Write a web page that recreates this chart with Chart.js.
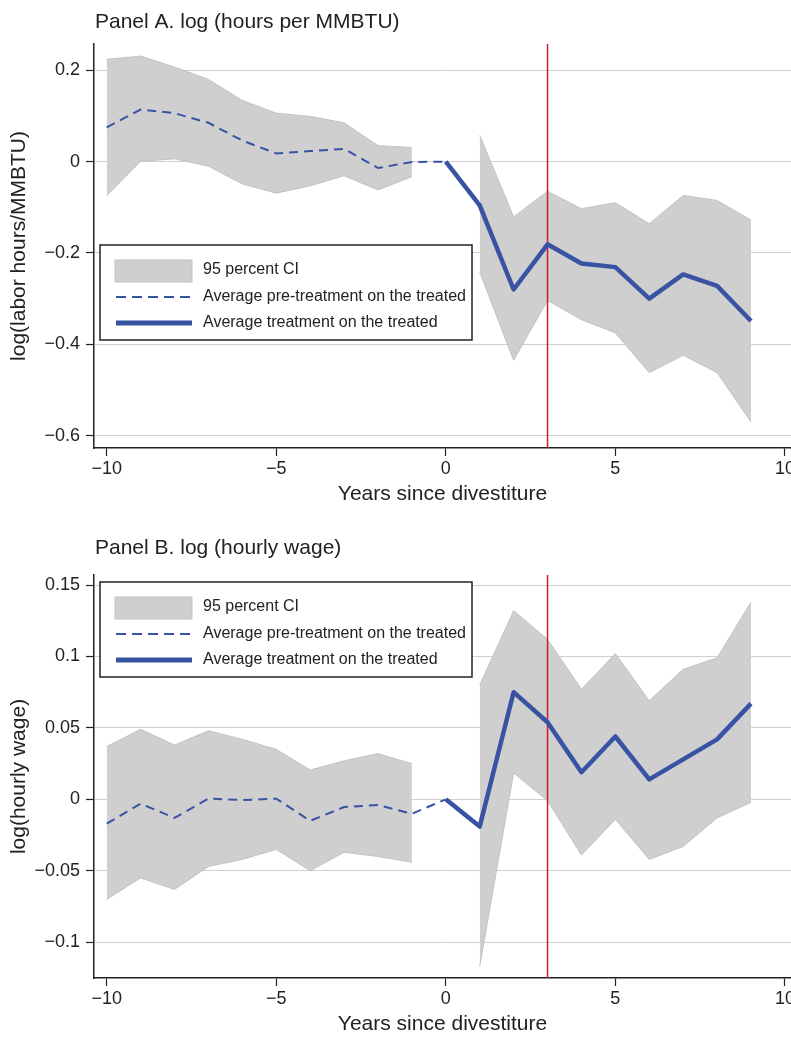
<!DOCTYPE html>
<html>
<head>
<meta charset="utf-8">
<script src="https://cdn.jsdelivr.net/npm/chart.js@4.4.1/dist/chart.umd.min.js"></script>
<style>
  html, body { margin: 0; padding: 0; background: #fff; overflow: hidden; width: 791px; height: 1038px; }
  .panel { position: absolute; left: 0; width: 810px; height: 519px; }
</style>
</head>
<body>
<div class="panel" style="top:0"><canvas id="panelA"></canvas></div>
<div class="panel" style="top:519px"><canvas id="panelB"></canvas></div>
<script>
// years relative to divestiture
const years = [-10, -9, -8, -7, -6, -5, -4, -3, -2, -1, 0, 1, 2, 3, 4, 5, 6, 7, 8, 9];
const treatYear = 3;
const xTicks = [-10, -5, 0, 5, 10];

// Panel A: log(labor hours / MMBTU)
const hoursEst   = [0.075, 0.114, 0.106, 0.085, 0.046, 0.018, 0.023, 0.028, -0.014, -0.001, 0, -0.096, -0.280, -0.181, -0.223, -0.231, -0.300, -0.247, -0.272, -0.349];
const hoursUpper = [0.224, 0.231, 0.207, 0.180, 0.134, 0.106, 0.099, 0.085, 0.035, 0.031, null, 0.058, -0.121, -0.065, -0.103, -0.090, -0.136, -0.074, -0.085, -0.128];
const hoursLower = [-0.075, 0.001, 0.006, -0.010, -0.049, -0.069, -0.053, -0.031, -0.062, -0.033, null, -0.242, -0.435, -0.304, -0.346, -0.375, -0.462, -0.424, -0.462, -0.570];
const hoursTicks = [0.2, 0, -0.2, -0.4, -0.6];

// Panel B: log(hourly wage)
const wageEst   = [-0.017, -0.003, -0.013, 0.0005, -0.0005, 0.0005, -0.015, -0.0054, -0.004, -0.010, 0, -0.019, 0.075, 0.054, 0.019, 0.044, 0.014, 0.028, 0.042, 0.067];
const wageUpper = [0.037, 0.049, 0.038, 0.048, 0.042, 0.035, 0.0205, 0.027, 0.032, 0.025, null, 0.080, 0.132, 0.112, 0.077, 0.102, 0.069, 0.091, 0.099, 0.138];
const wageLower = [-0.070, -0.055, -0.063, -0.047, -0.042, -0.035, -0.050, -0.037, -0.040, -0.044, null, -0.117, 0.0185, -0.001, -0.039, -0.014, -0.042, -0.033, -0.013, -0.002];
const wageTicks = [0.15, 0.1, 0.05, 0, -0.05, -0.1];

const legendLabels = ['95 percent CI', 'Average pre-treatment on the treated', 'Average treatment on the treated'];

const BLUE = '#3953a4';
const CI_FILL = '#cfcfcf';
const CI_EDGE = '#c2c2c2';
const RED = '#cc1a35';
const TEXT = '#222';
const FONT = '"Liberation Sans", Arial, Helvetica, sans-serif';

Chart.defaults.font.family = FONT;
Chart.defaults.color = TEXT;

function pts(vals, keep) {
  return years.map((x, i) => ({ x: x, y: vals[i] })).filter(p => keep(p.x));
}

function fmt(v) {
  if (v === 0) return '0';
  return (v < 0 ? '\u2212' : '') + String(Math.abs(v));
}

// panel title drawn above the plot, left aligned with the axis
const panelTitle = {
  id: 'panelTitle',
  afterDraw(chart, args, opts) {
    const { ctx, chartArea } = chart;
    ctx.save();
    ctx.font = '21px ' + FONT;
    ctx.fillStyle = TEXT;
    ctx.textBaseline = 'middle';
    ctx.fillText(opts.text, chartArea.left + 1, chartArea.top - opts.dy);
    ctx.restore();
  }
};

// boxed legend inside the plot
const ciLegend = {
  id: 'ciLegend',
  afterDraw(chart, args, opts) {
    const { ctx, chartArea } = chart;
    const x = chartArea.left + opts.dx, y = chartArea.top + opts.dy;
    const w = 372, h = 95;
    ctx.save();
    ctx.fillStyle = '#fff';
    ctx.fillRect(x, y, w, h);
    ctx.strokeStyle = '#222';
    ctx.lineWidth = 1.5;
    ctx.strokeRect(x, y, w, h);

    ctx.fillStyle = CI_FILL;
    ctx.fillRect(x + 15, y + 15, 77, 22);
    ctx.strokeStyle = CI_EDGE;
    ctx.lineWidth = 1;
    ctx.strokeRect(x + 15, y + 15, 77, 22);

    ctx.strokeStyle = BLUE;
    ctx.lineWidth = 2;
    ctx.setLineDash([10, 6]);
    ctx.beginPath(); ctx.moveTo(x + 16, y + 52); ctx.lineTo(x + 92, y + 52); ctx.stroke();
    ctx.setLineDash([]);
    ctx.lineWidth = 5;
    ctx.beginPath(); ctx.moveTo(x + 16, y + 78); ctx.lineTo(x + 92, y + 78); ctx.stroke();

    ctx.font = '16px ' + FONT;
    ctx.fillStyle = TEXT;
    ctx.textBaseline = 'middle';
    ctx.fillText(legendLabels[0], x + 103, y + 25);
    ctx.fillText(legendLabels[1], x + 103, y + 52);
    ctx.fillText(legendLabels[2], x + 103, y + 78);
    ctx.restore();
  }
};

function makeChart(id, cfg) {
  const pre = x => x <= 0;
  const post = x => x >= 0;
  const ciPre = x => x < 0;
  const ciPost = x => x > 0;
  const ciStyle = { borderColor: CI_EDGE, borderWidth: 1, backgroundColor: CI_FILL, pointRadius: 0, tension: 0 };

  return new Chart(document.getElementById(id), {
    type: 'line',
    data: {
      datasets: [
        { label: legendLabels[2], data: pts(cfg.est, post), borderColor: BLUE, borderWidth: 4.5,
          pointRadius: 0, fill: false, order: 0, borderJoinStyle: 'round' },
        { label: legendLabels[1], data: pts(cfg.est, pre), borderColor: BLUE, borderWidth: 2,
          borderDash: [9, 6], pointRadius: 0, fill: false, order: 1 },
        { label: 'divestiture', data: [{ x: treatYear, y: cfg.yMin }, { x: treatYear, y: cfg.yMax }],
          borderColor: RED, borderWidth: 1.5, pointRadius: 0, fill: false, order: 2 },
        Object.assign({ label: 'upper pre', data: pts(cfg.up, ciPre), fill: false, order: 3 }, ciStyle),
        Object.assign({ label: 'lower pre', data: pts(cfg.lo, ciPre), fill: 3, order: 4 }, ciStyle),
        Object.assign({ label: 'upper post', data: pts(cfg.up, ciPost), fill: false, order: 5 }, ciStyle),
        Object.assign({ label: 'lower post', data: pts(cfg.lo, ciPost), fill: 5, order: 6 }, ciStyle)
      ]
    },
    options: {
      responsive: true,
      maintainAspectRatio: false,
      animation: false,
      layout: { padding: cfg.padding },
      plugins: {
        legend: { display: false },
        tooltip: { enabled: false },
        panelTitle: { text: cfg.title, dy: cfg.titleDy },
        ciLegend: { dx: cfg.legendDx, dy: cfg.legendDy }
      },
      scales: {
        x: {
          type: 'linear',
          min: -10.375,
          max: 10.18,
          afterBuildTicks: s => { s.ticks = xTicks.map(v => ({ value: v })); },
          afterFit: s => { s.height = 59; },
          ticks: { callback: v => fmt(v), font: { size: 18 }, padding: 2, maxRotation: 0 },
          grid: { drawOnChartArea: false, tickLength: 8, tickColor: '#222', tickWidth: 1.2 },
          border: { color: '#222', width: 1.5 },
          title: { display: true, text: 'Years since divestiture', font: { size: 21 }, padding: { top: 0, bottom: 0 } }
        },
        y: {
          min: cfg.yMin,
          max: cfg.yMax,
          afterBuildTicks: s => { s.ticks = cfg.ticks.map(v => ({ value: v })); },
          afterFit: s => { s.width = 94; },
          ticks: { callback: v => fmt(v), font: { size: 18 }, padding: 6 },
          grid: { color: '#cfcfcf', lineWidth: 1, tickLength: 8, tickColor: '#222', tickWidth: 1.2 },
          border: { color: '#222', width: 1.5 },
          title: { display: true, text: cfg.yTitle, font: { size: 21 }, padding: { top: 7, bottom: 0 } }
        }
      }
    },
    plugins: [panelTitle, ciLegend]
  });
}

makeChart('panelA', {
  est: hoursEst, up: hoursUpper, lo: hoursLower, ticks: hoursTicks,
  yMin: -0.627, yMax: 0.2575,
  yTitle: 'log(labor hours/MMBTU)',
  title: 'Panel A. log (hours per MMBTU)', titleDy: 22,
  padding: { top: 44, right: 19, bottom: 12, left: 0 },
  legendDx: 6, legendDy: 201
});

makeChart('panelB', {
  est: wageEst, up: wageUpper, lo: wageLower, ticks: wageTicks,
  yMin: -0.125, yMax: 0.157,
  yTitle: 'log(hourly wage)',
  title: 'Panel B. log (hourly wage)', titleDy: 27,
  padding: { top: 56, right: 19, bottom: 1, left: 0 },
  legendDx: 6, legendDy: 7
});
</script>
</body>
</html>
